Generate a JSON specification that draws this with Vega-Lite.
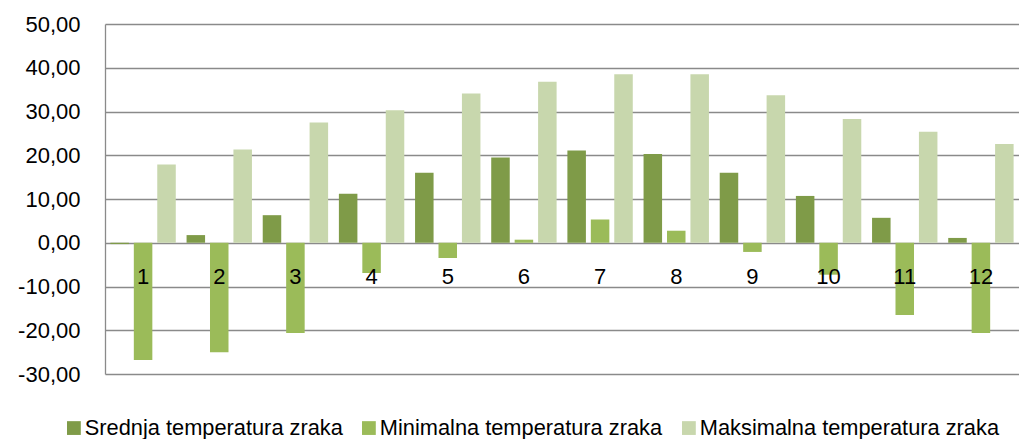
{
  "$schema": "https://vega.github.io/schema/vega-lite/v6.json",
  "width": 914,
  "height": 350,
  "autosize": {"type": "none"},
  "padding": {"left": 105, "top": 24, "right": 0, "bottom": 65},
  "config": {
    "locale": {"number": {"decimal": ",", "thousands": ".", "grouping": [3], "currency": ["", ""], "minus": "-"}},
    "view": {"stroke": null},
    "font": "Liberation Sans"
  },
  "data": {
    "values": [
      {"mjesec": 1, "serija": "Srednja temperatura zraka", "t": -0.3},
      {"mjesec": 1, "serija": "Minimalna temperatura zraka", "t": -26.8},
      {"mjesec": 1, "serija": "Maksimalna temperatura zraka", "t": 17.9},
      {"mjesec": 2, "serija": "Srednja temperatura zraka", "t": 1.75},
      {"mjesec": 2, "serija": "Minimalna temperatura zraka", "t": -25.0},
      {"mjesec": 2, "serija": "Maksimalna temperatura zraka", "t": 21.3},
      {"mjesec": 3, "serija": "Srednja temperatura zraka", "t": 6.3},
      {"mjesec": 3, "serija": "Minimalna temperatura zraka", "t": -20.6},
      {"mjesec": 3, "serija": "Maksimalna temperatura zraka", "t": 27.5},
      {"mjesec": 4, "serija": "Srednja temperatura zraka", "t": 11.2},
      {"mjesec": 4, "serija": "Minimalna temperatura zraka", "t": -6.9},
      {"mjesec": 4, "serija": "Maksimalna temperatura zraka", "t": 30.3},
      {"mjesec": 5, "serija": "Srednja temperatura zraka", "t": 16.0},
      {"mjesec": 5, "serija": "Minimalna temperatura zraka", "t": -3.5},
      {"mjesec": 5, "serija": "Maksimalna temperatura zraka", "t": 34.1},
      {"mjesec": 6, "serija": "Srednja temperatura zraka", "t": 19.5},
      {"mjesec": 6, "serija": "Minimalna temperatura zraka", "t": 0.7},
      {"mjesec": 6, "serija": "Maksimalna temperatura zraka", "t": 36.8},
      {"mjesec": 7, "serija": "Srednja temperatura zraka", "t": 21.1},
      {"mjesec": 7, "serija": "Minimalna temperatura zraka", "t": 5.3},
      {"mjesec": 7, "serija": "Maksimalna temperatura zraka", "t": 38.5},
      {"mjesec": 8, "serija": "Srednja temperatura zraka", "t": 20.3},
      {"mjesec": 8, "serija": "Minimalna temperatura zraka", "t": 2.75},
      {"mjesec": 8, "serija": "Maksimalna temperatura zraka", "t": 38.5},
      {"mjesec": 9, "serija": "Srednja temperatura zraka", "t": 16.0},
      {"mjesec": 9, "serija": "Minimalna temperatura zraka", "t": -2.1},
      {"mjesec": 9, "serija": "Maksimalna temperatura zraka", "t": 33.7},
      {"mjesec": 10, "serija": "Srednja temperatura zraka", "t": 10.7},
      {"mjesec": 10, "serija": "Minimalna temperatura zraka", "t": -7.3},
      {"mjesec": 10, "serija": "Maksimalna temperatura zraka", "t": 28.3},
      {"mjesec": 11, "serija": "Srednja temperatura zraka", "t": 5.7},
      {"mjesec": 11, "serija": "Minimalna temperatura zraka", "t": -16.5},
      {"mjesec": 11, "serija": "Maksimalna temperatura zraka", "t": 25.4},
      {"mjesec": 12, "serija": "Srednja temperatura zraka", "t": 1.1},
      {"mjesec": 12, "serija": "Minimalna temperatura zraka", "t": -20.6},
      {"mjesec": 12, "serija": "Maksimalna temperatura zraka", "t": 22.6}
    ]
  },
  "mark": {"type": "bar"},
  "encoding": {
    "x": {
      "field": "mjesec",
      "type": "ordinal",
      "scale": {"paddingInner": 0, "paddingOuter": 0},
      "axis": {
        "title": null,
        "labelAngle": 0,
        "orient": "bottom",
        "offset": -131.25,
        "domain": false,
        "ticks": false,
        "labelPadding": 24,
        "labelFontSize": 22,
        "labelColor": "#000000",
        "labelFont": "Liberation Sans",
        "zindex": 2
      }
    },
    "xOffset": {
      "field": "serija",
      "type": "nominal",
      "scale": {
        "domain": ["Srednja temperatura zraka", "Minimalna temperatura zraka", "Maksimalna temperatura zraka"],
        "paddingInner": 0.21,
        "paddingOuter": 0.23
      }
    },
    "y": {
      "field": "t",
      "type": "quantitative",
      "scale": {"domain": [-30, 50], "nice": false, "zero": false},
      "axis": {
        "title": null,
        "values": [-30, -20, -10, 0, 10, 20, 30, 40, 50],
        "format": ".2f",
        "grid": true,
        "gridColor": "#8a8a8a",
        "gridWidth": 1.3,
        "domain": true,
        "domainColor": "#8a8a8a",
        "domainWidth": 1.3,
        "ticks": false,
        "labelPadding": 25,
        "labelFontSize": 22,
        "labelColor": "#000000",
        "labelFont": "Liberation Sans"
      }
    },
    "color": {
      "field": "serija",
      "type": "nominal",
      "scale": {
        "domain": ["Srednja temperatura zraka", "Minimalna temperatura zraka", "Maksimalna temperatura zraka"],
        "range": ["#7f9b48", "#9bbb59", "#c8d7ad"]
      },
      "legend": {
        "title": null,
        "orient": "none",
        "direction": "horizontal",
        "legendX": -42,
        "legendY": 393,
        "symbolType": "square",
        "symbolSize": 190,
        "symbolStrokeWidth": 0,
        "labelFont": "Liberation Sans",
        "labelFontSize": 21.8,
        "labelColor": "#000000",
        "labelOffset": 0,
        "columnPadding": 15,
        "labelLimit": 400
      }
    }
  }
}
